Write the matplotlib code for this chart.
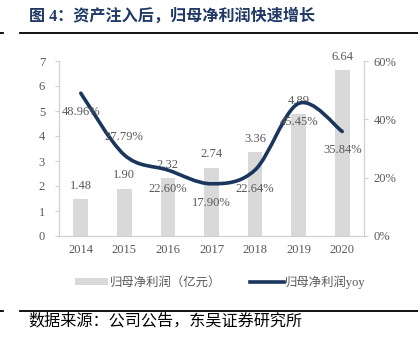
import matplotlib
matplotlib.use("Agg")
import numpy as np
import matplotlib.pyplot as plt
from matplotlib.path import Path
from matplotlib.patches import PathPatch, Patch
from matplotlib.lines import Line2D
from matplotlib.ticker import FuncFormatter

# data
years = ["2014", "2015", "2016", "2017", "2018", "2019", "2020"]
profit = [1.48, 1.90, 2.32, 2.74, 3.36, 4.89, 6.64]          # 亿元
yoy = [48.96, 27.79, 22.60, 17.90, 22.64, 45.45, 35.84]      # %
yoy_label_above = [False, True, False, False, False, False, False]

title = "图 4：资产注入后，归母净利润快速增长"
source = "数据来源：公司公告，东吴证券研究所"
bar_name = "归母净利润（亿元）"
line_name = "归母净利润yoy"

C_BAR = "#D9D9D9"
C_LINE = "#1B365D"
C_TXT = "#595959"
C_TITLE = "#1F3864"
SERIF = ["Liberation Serif", "Noto Sans CJK SC"]
CJK = ["Noto Sans CJK SC", "DejaVu Sans"]

plt.rcParams["font.family"] = SERIF


def smooth_path(xs, ys):
    # Excel style smoothed line: cubic bezier segments through the points
    pts = np.column_stack([xs, ys]).astype(float)
    n = len(pts)
    verts = [pts[0]]
    codes = [Path.MOVETO]
    for i in range(n - 1):
        p0 = pts[i - 1] if i > 0 else pts[i]
        p1 = pts[i]
        p2 = pts[i + 1]
        p3 = pts[i + 2] if i + 2 < n else pts[i + 1]
        c1 = p1 + (p2 - p0) / 6.0
        c2 = p2 - (p3 - p1) / 6.0
        verts += [c1, c2, p2]
        codes += [Path.CURVE4] * 3
    return Path(verts, codes)


fig = plt.figure(figsize=(4.18, 3.49), dpi=100)
ax = fig.add_axes([59 / 418, 113 / 349, 305 / 418, 175 / 349])
ax2 = ax.twinx()

x = np.arange(len(years))
ax.bar(x, profit, width=0.34, color=C_BAR, zorder=2)
ax.set_xlim(-0.5, len(years) - 0.5)
ax.set_ylim(0, 7)
ax.set_yticks(range(0, 8))
ax.set_xticks(x)
ax.set_xticklabels(years)

for xi, v in zip(x, profit):
    ax.annotate(f"{v:.2f}", (xi, v), xytext=(0, 9.5), textcoords="offset points",
                ha="center", va="center", fontsize=9, color=C_TXT, zorder=5)

ax2.set_ylim(0, 60)
ax2.set_yticks([0, 20, 40, 60])
ax2.yaxis.set_major_formatter(FuncFormatter(lambda v, p: f"{v:.0f}%"))

path = smooth_path(x, yoy)
ax2.add_patch(PathPatch(path, facecolor="none", edgecolor=C_LINE, lw=2.6,
                        capstyle="round", joinstyle="round", zorder=3))
for xi, v, up in zip(x, yoy, yoy_label_above):
    ax2.annotate(f"{v:.2f}%", (xi, v), xytext=(0, 13 if up else -13.5),
                 textcoords="offset points", ha="center", va="center",
                 fontsize=9, color=C_TXT, zorder=5)

for a in (ax, ax2):
    a.spines["top"].set_visible(False)
    for s in ("left", "right", "bottom"):
        a.spines[s].set_color("#D0D0D0")
        a.spines[s].set_linewidth(0.9)
    a.tick_params(axis="both", colors="#D0D0D0", labelcolor=C_TXT, labelsize=9)
ax.spines["right"].set_visible(False)
ax2.spines["left"].set_visible(False)
ax2.spines["bottom"].set_visible(False)
ax.tick_params(axis="x", length=0, pad=6)
ax.tick_params(axis="y", length=3, pad=7)
ax2.tick_params(axis="y", length=3, pad=4)

# legend
handles = [Patch(facecolor=C_BAR, edgecolor="none"),
           Line2D([], [], color=C_LINE, lw=2.6)]
leg = fig.legend(handles, [bar_name, line_name], loc="center",
                 bbox_to_anchor=(0.527, 1 - 282 / 349), ncol=2, frameon=False,
                 handlelength=2.7, handleheight=0.6, handletextpad=0.1,
                 columnspacing=2.4, prop={"family": SERIF, "size": 8.9})
for t in leg.get_texts():
    t.set_color(C_TXT)

# title and source with rules
fig.text(29 / 418, 1 - 17 / 349, title, ha="left", va="center", fontsize=11.6,
         fontweight="bold", color=C_TITLE, family=SERIF)
fig.add_artist(Line2D([20 / 418, 1], [1 - 33 / 349] * 2, color="black", lw=1.3))
fig.add_artist(Line2D([0, 3 / 418], [1 - 33 / 349] * 2, color="black", lw=1.3))
fig.add_artist(Line2D([20 / 418, 1], [1 - 311 / 349] * 2, color="black", lw=1.3))
fig.add_artist(Line2D([0, 3 / 418], [1 - 311 / 349] * 2, color="black", lw=1.3))
fig.text(28 / 418, 1 - 321 / 349, source, ha="left", va="center", fontsize=11.6,
         color="black", family=CJK)

fig.savefig("out.png", dpi=100)
